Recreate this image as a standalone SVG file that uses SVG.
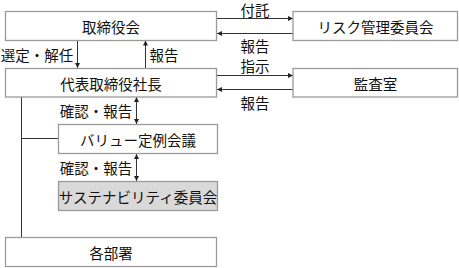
<svg xmlns="http://www.w3.org/2000/svg" width="459" height="268" viewBox="0 0 459 268">
<style>
.box{fill:#fff;stroke:#9a9a9a;stroke-width:1.3}
.gray{fill:#d9d9d9}
.t{font-family:"Noto Sans CJK JP","Noto Sans CJK SC",sans-serif;font-size:14.5px;fill:#111;text-anchor:middle;dominant-baseline:central}
.l{fill:none;stroke:#333;stroke-width:1}
</style>
<defs>
<marker id="ah" viewBox="0 0 6 6" refX="6" refY="3" markerWidth="5" markerHeight="5" orient="auto-start-reverse" markerUnits="userSpaceOnUse">
<path d="M0,0 L6,3 L0,6 Z" fill="#222"/>
</marker>
</defs>
<rect width="459" height="268" fill="#fff"/>
<g id="connectors">
<line class="l" x1="77.5" y1="40.5" x2="77.5" y2="68" marker-end="url(#ah)"/>
<line class="l" x1="145.5" y1="68" x2="145.5" y2="40.5" marker-end="url(#ah)"/>
<line class="l" x1="217" y1="18.5" x2="293" y2="18.5" marker-end="url(#ah)"/>
<line class="l" x1="293" y1="33.5" x2="217" y2="33.5" marker-end="url(#ah)"/>
<line class="l" x1="217" y1="75.5" x2="293" y2="75.5" marker-end="url(#ah)"/>
<line class="l" x1="293" y1="89.5" x2="217" y2="89.5" marker-end="url(#ah)"/>
<line class="l" x1="136.5" y1="97" x2="136.5" y2="124" marker-start="url(#ah)" marker-end="url(#ah)"/>
<line class="l" x1="136.5" y1="154" x2="136.5" y2="181" marker-start="url(#ah)" marker-end="url(#ah)"/>
<polyline class="l" points="21.5,97 21.5,237"/>
<line class="l" x1="21.5" y1="138.5" x2="58" y2="138.5"/>
<text class="t" x="37" y="54">選定・解任</text>
<text class="t" x="164" y="54">報告</text>
<text class="t" x="255" y="9">付託</text>
<text class="t" x="255" y="45">報告</text>
<text class="t" x="255" y="65">指示</text>
<text class="t" x="255" y="102">報告</text>
<text class="t" x="96" y="110">確認・報告</text>
<text class="t" x="96" y="167">確認・報告</text>
</g>
<g id="torishimariyakukai"><rect class="box" x="5.5" y="11.5" width="211" height="29"/><text class="t" x="111" y="26">取締役会</text></g>
<g id="shacho"><rect class="box" x="5.5" y="68.5" width="211" height="28.5"/><text class="t" x="111" y="83">代表取締役社長</text></g>
<g id="risk"><rect class="box" x="293" y="11.5" width="164.5" height="29"/><text class="t" x="375.5" y="26">リスク管理委員会</text></g>
<g id="kansa"><rect class="box" x="293" y="68.5" width="164.5" height="28.5"/><text class="t" x="375.5" y="83">監査室</text></g>
<g id="value"><rect class="box" x="58.5" y="124.5" width="159" height="29"/><text class="t" x="138" y="139">バリュー定例会議</text></g>
<g id="sustain"><rect class="box gray" x="58.5" y="181.5" width="159" height="29"/><text class="t" x="138" y="196">サステナビリティ委員会</text></g>
<g id="kakubusho"><rect class="box" x="5.5" y="237.5" width="211" height="29"/><text class="t" x="111" y="252">各部署</text></g>
</svg>
